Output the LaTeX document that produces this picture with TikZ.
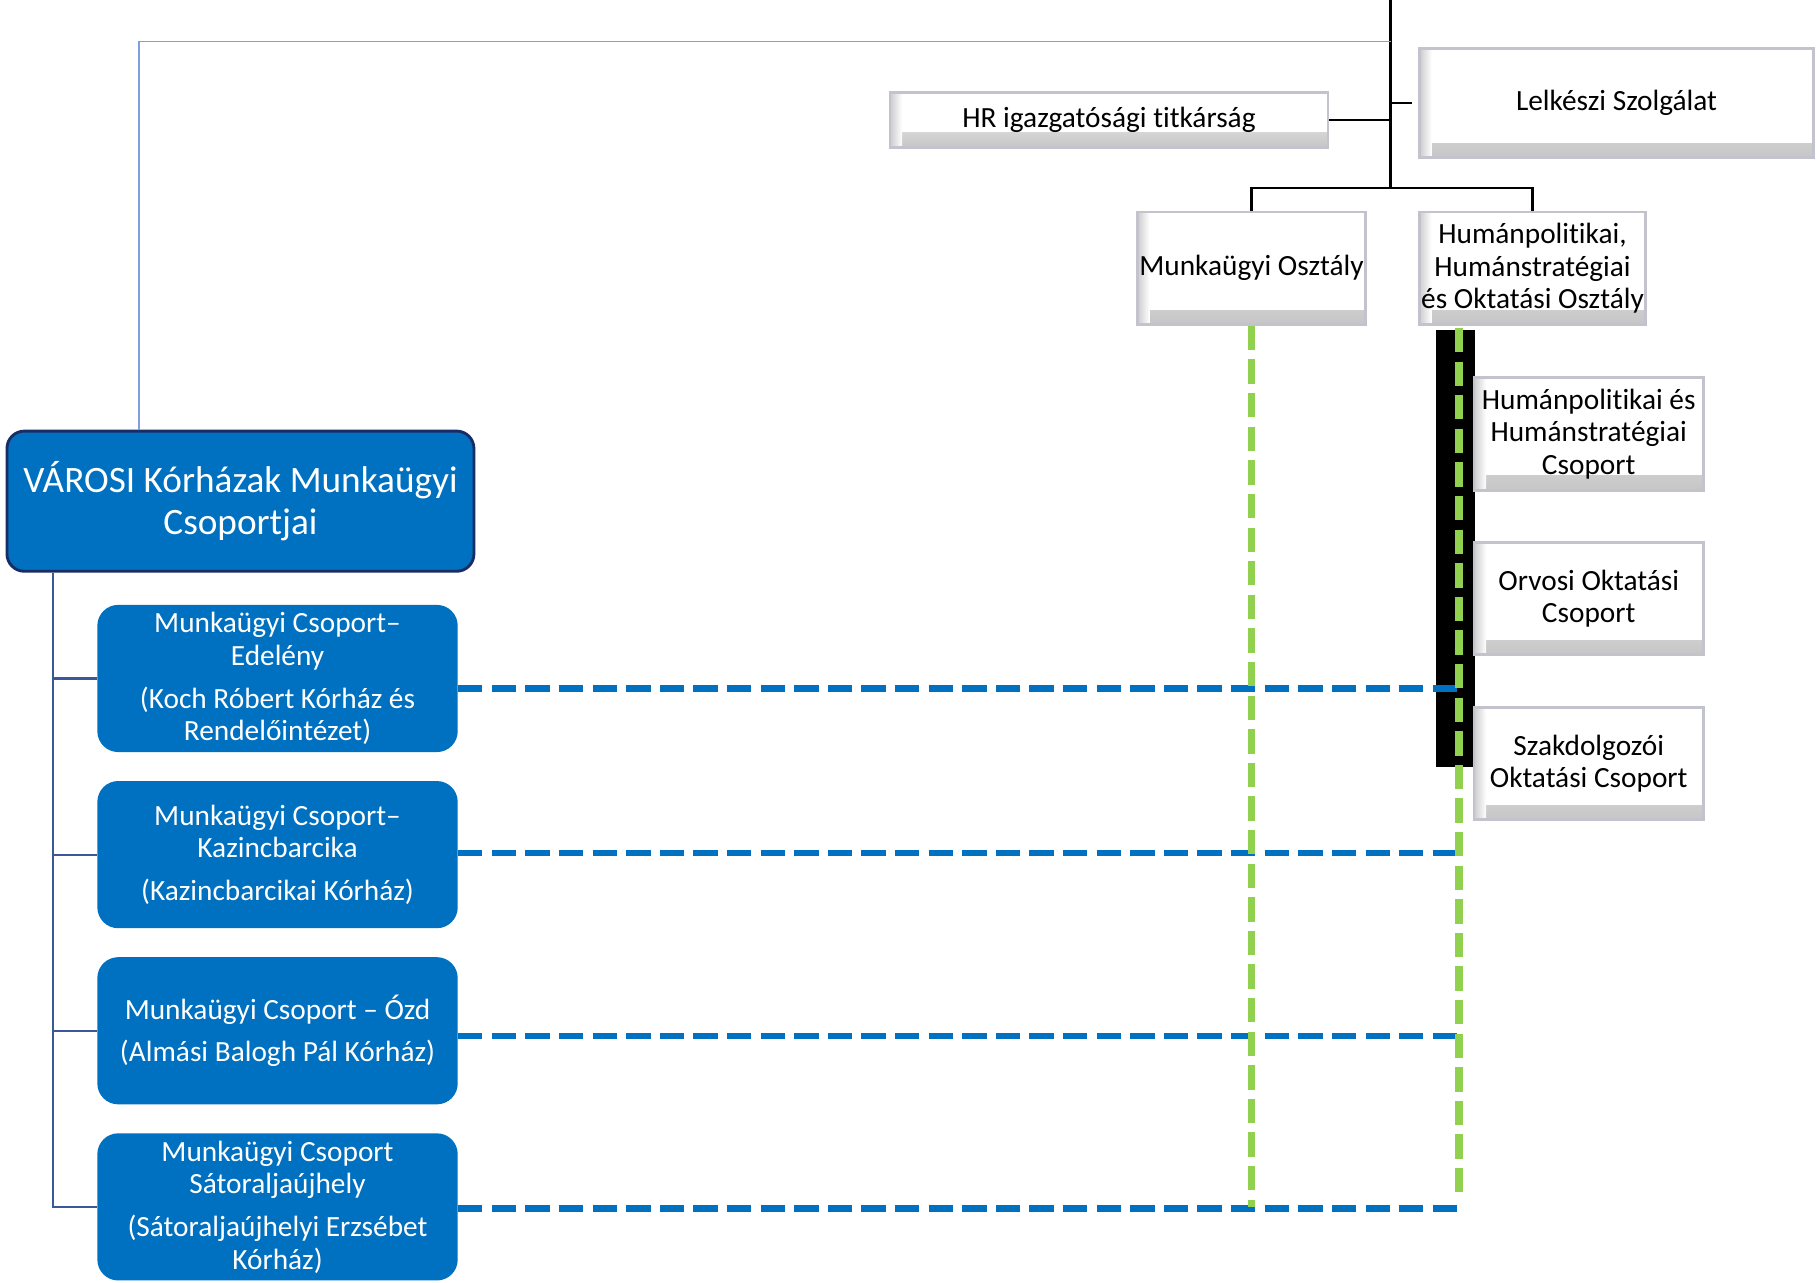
\documentclass[tikz,border=0pt]{standalone}
\usepackage{fontspec}
\setmainfont{Carlito}[Ligatures=NoCommon]
\usetikzlibrary{calc,positioning}
\definecolor{vblue}{RGB}{0,112,192}
\definecolor{vnavy}{RGB}{25,45,100}
\definecolor{treeblue}{RGB}{59,89,152}
\definecolor{linkblue}{RGB}{127,159,223}
\definecolor{vgreen}{RGB}{146,208,80}
\definecolor{boxedge}{RGB}{195,195,205}

\tikzset{
  bevelbox/.style={draw=boxedge, line width=1.4pt, fill=white, align=center, inner sep=1pt,
    font=\fontsize{14.4}{16}\selectfont,
    path picture={
      \shade[top color=white, bottom color=gray!45]
        ([yshift=7pt]path picture bounding box.south west) rectangle (path picture bounding box.south east);
      \shade[left color=gray!40, right color=white]
        (path picture bounding box.south west) rectangle ([xshift=6pt]path picture bounding box.north west);
    }},
  bluebox/.style={fill=vblue, rounded corners=0.36cm, text=white, align=center,
    minimum width=6.22cm, minimum height=2.54cm, inner sep=1pt, font=\fontsize{14.4}{16}\selectfont},
  orgline/.style={draw=black, line width=1.2pt},
  treeline/.style={draw=treeblue, line width=1.1pt},
  linkline/.style={draw=linkblue, line width=0.6pt},
  bluedash/.style={draw=vblue, line width=3.2pt, dash pattern=on 0.42cm off 0.16cm},
  greendash/.style={draw=vgreen, line width=3.8pt, dash pattern=on 0.42cm off 0.16cm},
}

\begin{document}
\begin{tikzpicture}[x=0.2mm, y=-0.2mm]
  \useasboundingbox (0,0) rectangle (1568,1107);

  % segedpontok
  \coordinate (top) at (1200,0);
  \coordinate (hub) at (1200,162);
  \coordinate (bend) at (120,36);
  \coordinate (spine) at (46,0);
  \coordinate (g2) at (1259,283);
  \coordinate (g2end) at (1259,1030);

  % fekete hatter a csoportok mellett
  \fill[black] (1239,285) rectangle (1273,662);

  % HR igazgatosag dobozai
  \node[bevelbox, minimum width=7.56cm, minimum height=0.94cm] (hr) at (957,103.5)
    {HR igazgatósági titkárság};
  \node[bevelbox, minimum width=6.8cm, minimum height=1.88cm] (lelk) at (1395,89)
    {Lelkészi Szolgálat};
  \node[bevelbox, minimum width=3.92cm, minimum height=1.94cm] (mo) at (1080,231.5)
    {Munkaügyi Osztály};
  \node[bevelbox, minimum width=3.9cm, minimum height=1.94cm] (hum) at (1322.5,231.5)
    {Humánpolitikai,\\Humánstratégiai\\és Oktatási Osztály};

  % csoportok jobbra
  \node[bevelbox, minimum width=3.96cm, minimum height=1.94cm] (hc1) at (1371,374.5)
    {Humánpolitikai és\\Humánstratégiai\\Csoport};
  \node[bevelbox, minimum width=3.96cm, minimum height=1.94cm] (hc2) at (1371,516.5)
    {Orvosi Oktatási\\Csoport};
  \node[bevelbox, minimum width=3.96cm, minimum height=1.94cm] (hc3) at (1371,659)
    {Szakdolgozói\\Oktatási Csoport};

  % fekete vonalak
  \draw[orgline] (top) -- (hub);
  \draw[orgline] (hr.east) -- (hr.east -| top);
  \draw[orgline] ([xshift=-3pt]lelk.west) -- (lelk.west -| top);
  \draw[orgline] (mo.north) |- (hub) -| (hum.north);

  % varosi korhazak
  \node[fill=vblue, draw=vnavy, line width=1.4pt, rounded corners=0.3cm, text=white, align=center,
    minimum width=8.06cm, minimum height=2.42cm, font=\fontsize{18.3}{20.5}\selectfont] (main) at (207.5,432.5)
    {VÁROSI Kórházak Munkaügyi\\Csoportjai};

  \node[bluebox] (c1) at (239.5,585.5)
    {Munkaügyi Csoport–\\Edelény\\[5pt](Koch Róbert Kórház és\\Rendelőintézet)};
  \node[bluebox] (c2) at (239.5,737.5)
    {Munkaügyi Csoport–\\Kazincbarcika\\[5pt](Kazincbarcikai Kórház)};
  \node[bluebox] (c3) at (239.5,889.5)
    {Munkaügyi Csoport – Ózd\\[5pt](Almási Balogh Pál Kórház)};
  \node[bluebox] (c4) at (239.5,1041.5)
    {Munkaügyi Csoport\\Sátoraljaújhely\\[5pt](Sátoraljaújhelyi Erzsébet\\Kórház)};

  % kek vonalak
  \draw[linkline] (main.north -| bend) -- (bend) -- (bend -| top);
  \draw[treeline] (spine |- main.south) -- (spine |- c4.west) -- (c4.west);
  \foreach \c in {c1,c2,c3}
    \draw[treeline] (spine |- \c.west) -- (\c.west);

  % szaggatott kapcsolatok
  \foreach \c/\dy in {c1/-1.7,c2/0.3,c3/-0.9,c4/-0.3}
    \draw[bluedash] ([yshift=\dy mm]\c.east) -- ([yshift=\dy mm]\c.east -| g2);
  \draw[greendash] (mo.south) -- (mo.south |- c4.east);
  \draw[greendash] (g2) -- (g2end);

\end{tikzpicture}
\end{document}
